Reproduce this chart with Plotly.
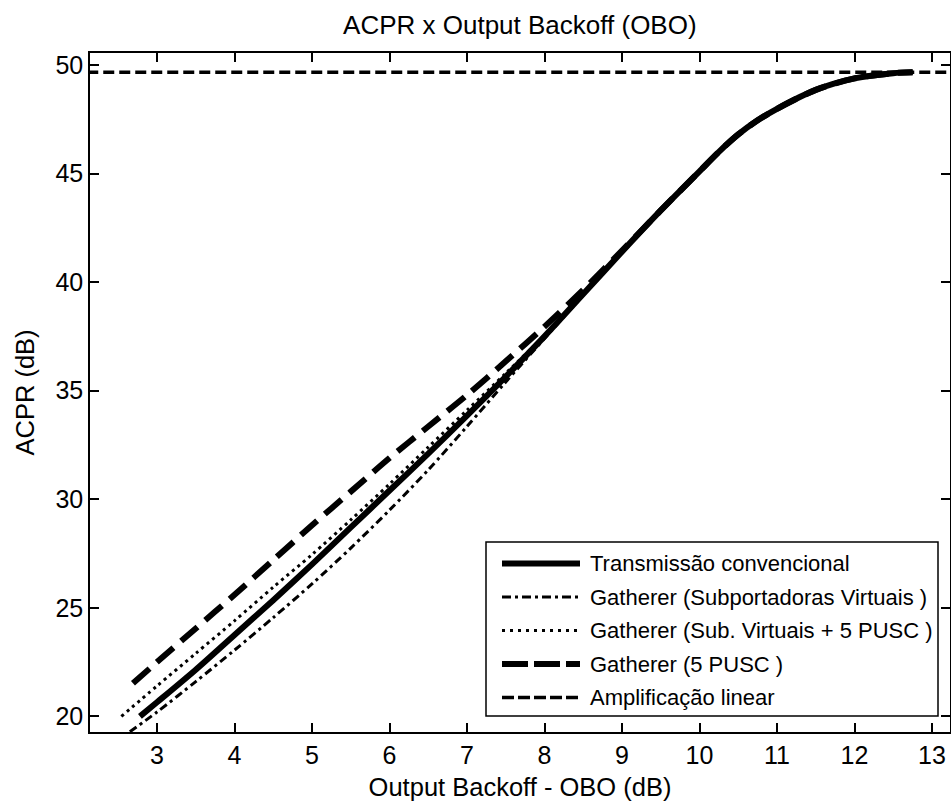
import plotly.graph_objects as go

# ---------------- data ----------------
obo_conv = [2.78, 3.0, 3.5, 4.0, 4.5, 5.0, 5.5, 6.0, 6.5, 7.0, 7.5, 8.0, 8.5, 9.0, 9.5, 10.0, 10.25, 10.5, 10.75, 11.0, 11.5, 12.0, 12.5, 12.75]
acpr_conv = [20.0, 20.65, 22.15, 23.75, 25.35, 27.0, 28.7, 30.4, 32.1, 33.85, 35.65, 37.5, 39.45, 41.4, 43.3, 45.1, 46.0, 46.8, 47.45, 47.98, 48.85, 49.38, 49.62, 49.66]

obo_sv = [2.65, 3.0, 3.5, 4.0, 4.5, 5.0, 5.5, 6.0, 6.5, 7.0, 7.5, 8.0, 8.5, 9.0, 9.5, 10.0, 10.25, 10.5, 10.75, 11.0, 11.5, 12.0, 12.5, 12.75]
acpr_sv = [19.29, 20.2, 21.6, 23.05, 24.55, 26.1, 27.75, 29.5, 31.35, 33.35, 35.4, 37.4, 39.4, 41.4, 43.3, 45.1, 46.0, 46.8, 47.45, 47.98, 48.85, 49.38, 49.62, 49.66]

obo_svp = [2.54, 3.0, 3.5, 4.0, 4.5, 5.0, 5.5, 6.0, 6.5, 7.0, 7.5, 8.0, 8.5, 9.0, 9.5, 10.0, 10.25, 10.5, 10.75, 11.0, 11.5, 12.0, 12.5, 12.75]
acpr_svp = [20.0, 21.4, 22.9, 24.4, 25.95, 27.45, 29.05, 30.7, 32.4, 34.1, 35.8, 37.55, 39.45, 41.4, 43.3, 45.1, 46.0, 46.8, 47.45, 47.98, 48.85, 49.38, 49.62, 49.66]

obo_pusc = [2.69, 3.0, 3.5, 4.0, 4.5, 5.0, 5.5, 6.0, 6.5, 7.0, 7.5, 8.0, 8.5, 9.0, 9.5, 10.0, 10.25, 10.5, 10.75, 11.0, 11.5, 12.0, 12.5, 12.75]
acpr_pusc = [21.52, 22.5, 24.05, 25.6, 27.2, 28.8, 30.35, 31.9, 33.35, 34.8, 36.35, 37.95, 39.65, 41.45, 43.3, 45.1, 46.0, 46.8, 47.45, 47.98, 48.85, 49.38, 49.62, 49.66]

obo_lin = [2.1, 13.3]
acpr_lin = [49.66, 49.66]

series_names = [
    "Transmissão convencional",
    "Gatherer (Subportadoras Virtuais )",
    "Gatherer (Sub. Virtuais + 5 PUSC )",
    "Gatherer (5 PUSC )",
    "Amplificação linear",
]

x_ticks = [3, 4, 5, 6, 7, 8, 9, 10, 11, 12, 13]
y_ticks = [20, 25, 30, 35, 40, 45, 50]

# ---------------- styles ----------------
FONT = "Liberation Sans, Arial, sans-serif"
styles = [
    dict(width=6, dash="solid"),
    dict(width=3, dash="8px,4px,3px,4px"),
    dict(width=3, dash="3px,4px"),
    dict(width=6, dash="22px,10px"),
    dict(width=3.5, dash="11px,5px"),
]
legend_dash = ["solid", "9px,4px,3px,4px", "3px,5px", "26px,6px", "12px,4px"]

W, H = 951, 805
ML, MR, MT, MB = 90, 1, 53, 73
PW, PH = W - ML - MR, H - MT - MB

fig = go.Figure()
data_sets = [(obo_conv, acpr_conv), (obo_sv, acpr_sv), (obo_svp, acpr_svp),
             (obo_pusc, acpr_pusc), (obo_lin, acpr_lin)]
for (xs, ys), name, st in zip(data_sets, series_names, styles):
    fig.add_trace(go.Scatter(
        x=xs, y=ys, mode="lines", name=name, showlegend=False,
        line=dict(color="black", width=st["width"], dash=st["dash"],
                  shape="spline", smoothing=0.8),
        cliponaxis=True,
    ))

# ---------------- manual legend (layout) ----------------
def px_x(p):
    return (p - ML) / PW

def px_y(p):
    return (H - MB - p) / PH

shapes = [dict(type="rect", xref="paper", yref="paper",
               x0=px_x(486), x1=px_x(938), y0=px_y(716), y1=px_y(542),
               line=dict(color="black", width=1.5), fillcolor="white", layer="above")]
annotations = []
rows = [563.5, 597, 630.5, 664, 697.5]
for name, st, ld, ry in zip(series_names, styles, legend_dash, rows):
    shapes.append(dict(type="line", xref="paper", yref="paper",
                       x0=px_x(502), x1=px_x(580), y0=px_y(ry), y1=px_y(ry),
                       line=dict(color="black", width=st["width"], dash=ld), layer="above"))
    annotations.append(dict(xref="paper", yref="paper", x=px_x(588), y=px_y(ry),
                            text=name, showarrow=False, xanchor="left", yanchor="middle",
                            font=dict(family=FONT, size=22, color="black")))

fig.update_layout(
    width=W, height=H,
    margin=dict(l=ML, r=MR, t=MT, b=MB, autoexpand=False),
    paper_bgcolor="white", plot_bgcolor="white",
    font=dict(family=FONT, size=25, color="black"),
    title=dict(text="ACPR x Output Backoff (OBO)", x=0.5466, xanchor="center",
               y=1 - 25 / H, yanchor="middle", font=dict(size=26, color="black")),
    shapes=shapes, annotations=annotations,
    showlegend=False,
)
fig.update_xaxes(
    range=[2.1355, 13.232], tickvals=x_ticks, ticks="inside", ticklen=9, tickwidth=1.5,
    tickcolor="black", showline=True, linecolor="black", linewidth=1.5, mirror="ticks",
    showgrid=False, zeroline=False, automargin=False,
    title=dict(text="Output Backoff - OBO (dB)", standoff=10, font=dict(size=25.5)),
    tickfont=dict(size=25),
)
fig.update_yaxes(
    range=[19.28, 50.55], tickvals=y_ticks, ticks="inside", ticklen=9, tickwidth=1.5,
    tickcolor="black", showline=True, linecolor="black", linewidth=1.5, mirror="ticks",
    showgrid=False, zeroline=False, automargin=False,
    title=dict(text="ACPR (dB)", standoff=14, font=dict(size=25.5)),
    tickfont=dict(size=25),
)

fig.write_html(
    "out.html",
    config={"displayModeBar": False},
    post_script="document.body.style.margin='0px';document.body.style.overflow='hidden';",
)
